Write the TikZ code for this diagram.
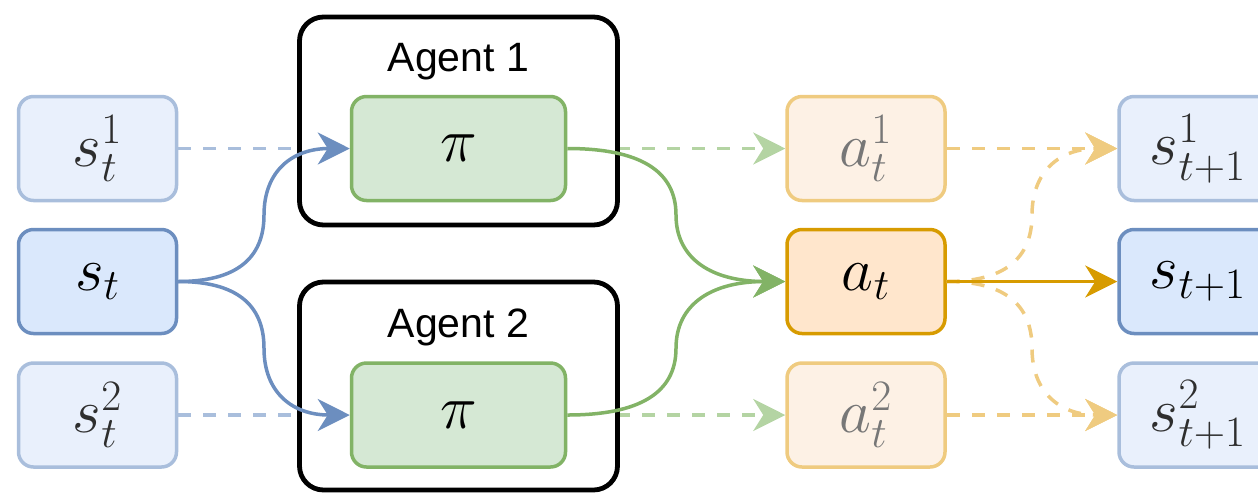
\RequirePackage{fix-cm}
\documentclass[tikz,border=0pt]{standalone}
\usepackage{fontspec}
\newfontfamily\agentfont{Liberation Sans}
\usetikzlibrary{arrows.meta}

\definecolor{bfill}{HTML}{DAE8FC}
\definecolor{bline}{HTML}{6C8EBF}
\definecolor{lbfill}{HTML}{E9F0FC}
\definecolor{lbline}{HTML}{A9BEDC}
\definecolor{gfill}{HTML}{D5E8D4}
\definecolor{gline}{HTML}{82B366}
\definecolor{lgline}{HTML}{B4D4A3}
\definecolor{ofill}{HTML}{FFE6CC}
\definecolor{oline}{HTML}{D79B00}
\definecolor{lofill}{HTML}{FDF1E5}
\definecolor{loline}{HTML}{EFCB80}
\definecolor{ltext}{HTML}{2E2E2E}
\definecolor{atext}{HTML}{777777}

\pgfdeclarelayer{back}
\pgfsetlayers{back,main}

\begin{document}
\begin{tikzpicture}[x=0.5pt,y=-0.5pt,
  cell/.style={draw, rounded corners=7.5pt, line width=1.75pt, inner sep=0pt,
    minimum width=79pt, minimum height=52pt, font=\fontsize{31}{36}\selectfont},
  sstate/.style={cell, fill=bfill, draw=bline},
  slight/.style={cell, fill=lbfill, draw=lbline, text=ltext},
  act/.style={cell, fill=ofill, draw=oline},
  alight/.style={cell, fill=lofill, draw=loline, text=atext},
  policy/.style={cell, fill=gfill, draw=gline, minimum width=107pt},
  agentbox/.style={draw=black, fill=white, rounded corners=12pt, line width=2.4pt,
    minimum width=159pt, minimum height=104pt, inner sep=0pt},
  agentlabel/.style={font=\agentfont\fontsize{20.5}{24}\selectfont, inner sep=0pt},
  tip/.style={-{Stealth[length=16pt,width=16pt,inset=5pt]}},
  flow/.style={tip, line width=1.75pt},
  dashflow/.style={flow, dash pattern=on 6.5pt off 6pt},
]
\useasboundingbox (0,0) rectangle (1258,494);

% agents and their policies
\node[agentbox] (ag1) at (458.5,121) {};
\node[agentbox] (ag2) at (458.5,386) {};
\node[agentlabel] (lab1) at (458.5,62) {Agent 1};
\node[agentlabel] (lab2) at (458.5,327) {Agent 2};
\node[policy] (pi1) at (458.5,148.5) {$\pi$};
\node[policy] (pi2) at (458.5,415) {$\pi$};

% states at time t
\node[slight] (s1) at (97.5,148.5) {$s_t^1$};
\node[sstate] (s)  at (97.5,281.5) {$s_t$};
\node[slight] (s2) at (97.5,415)   {$s_t^2$};

% actions
\node[alight] (a1) at (866,148.5) {$a_t^1$};
\node[act]    (a)  at (866,281.5) {$a_t$};
\node[alight] (a2) at (866,415)   {$a_t^2$};

% states at time t+1
\node[slight] (n1) at (1198,148.5) {$s_{t+1}^1$};
\node[sstate] (n)  at (1198,281.5) {$s_{t+1}$};
\node[slight] (n2) at (1198,415)   {$s_{t+1}^2$};

% per-agent dashed flows, partly hidden behind the agent boxes
\begin{pgfonlayer}{back}
  \draw[dashflow, lbline] (s1.east) -- (pi1.west);
  \draw[dashflow, lbline] (s2.east) -- (pi2.west);
  \draw[dashflow, lgline] (pi1.east) -- (a1.west);
  \draw[dashflow, lgline] (pi2.east) -- (a2.west);
\end{pgfonlayer}

% joint state fed to both agents
\draw[flow, bline] (s.east) .. controls (235.3,281.5) and (264,259.2) .. (264,215)
  .. controls (264,170.7) and (292.7,148.5) .. (pi1.west);
\draw[flow, bline] (s.east) .. controls (235.3,281.5) and (264,303.75) .. (264,348.25)
  .. controls (264,392.75) and (292.7,415) .. (pi2.west);

% both policies make up the joint action
\draw[flow, gline] (pi1.east) .. controls (639.7,148.5) and (676,170.7) .. (676,215)
  .. controls (676,259.2) and (712.3,281.5) .. (a.west);
\draw[flow, gline] (pi2.east) .. controls (639.7,415) and (676,392.75) .. (676,348.25)
  .. controls (676,303.75) and (712.3,281.5) .. (a.west);

% transitions to time t+1
\draw[dashflow, loline] (a1.east) -- (n1.west);
\draw[dashflow, loline] (a2.east) -- (n2.west);
\draw[dashflow, loline] (a.east) .. controls (1003.7,281.5) and (1032,259.2) .. (1032,215)
  .. controls (1032,170.7) and (1060.3,148.5) .. (n1.west);
\draw[dashflow, loline] (a.east) .. controls (1003.7,281.5) and (1032,303.75) .. (1032,348.25)
  .. controls (1032,392.75) and (1060.3,415) .. (n2.west);
\draw[flow, oline] (a.east) -- (n.west);
\end{tikzpicture}
\end{document}
